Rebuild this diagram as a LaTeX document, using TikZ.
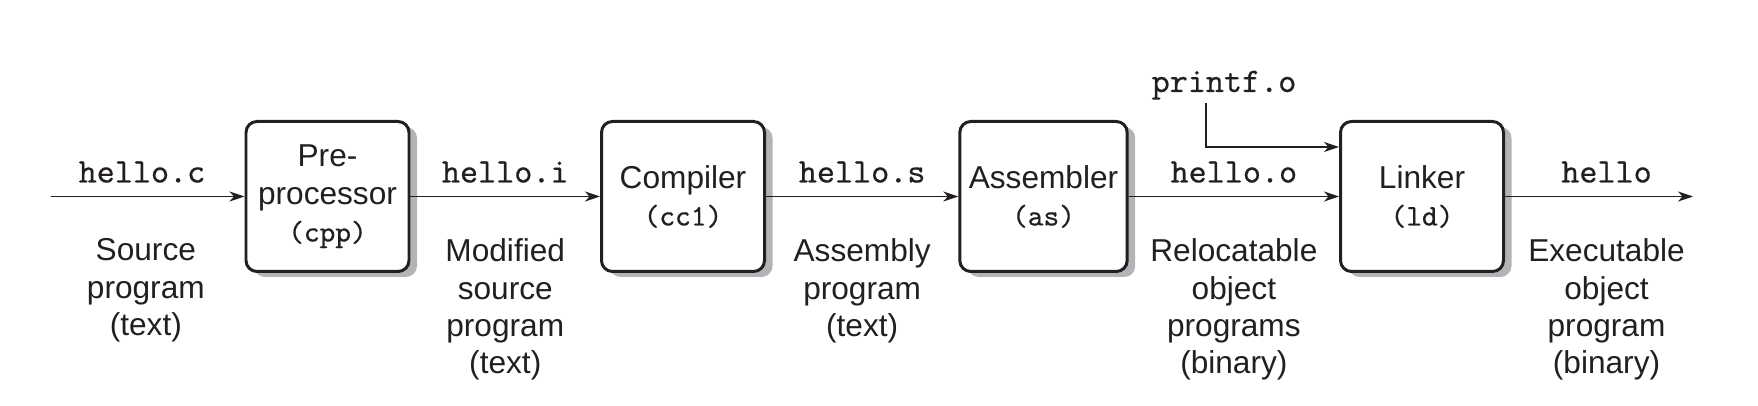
\documentclass[tikz,border=0pt]{standalone}
\usepackage{fontspec}
\setmainfont{Liberation Sans}
\setmonofont{lmmono10-regular.otf}[FakeBold=0.5]
\usetikzlibrary{arrows.meta,shadows}
\definecolor{ink}{RGB}{35,31,32}
\definecolor{shadowgray}{RGB}{178,180,183}
\newcommand{\tool}[1]{{\ttfamily\fontsize{17}{21.3}\selectfont #1}}
\begin{document}
\begin{tikzpicture}[
	stage/.style={draw=ink,line width=1.7pt,rounded corners=0.22cm,fill=white,text=ink,
		minimum width=3.26cm,minimum height=3cm,inner sep=0.18cm,align=center,
		font=\fontsize{18}{21.3}\selectfont,
		drop shadow={shadow xshift=0.16cm,shadow yshift=-0.11cm,fill=shadowgray,opacity=1}},
	flow/.style={draw=ink,line width=0.85pt,-{Stealth[length=0.3cm,width=0.2cm,inset=0.09cm]}},
	fname/.style={font=\ttfamily\fontsize{19.6}{22}\selectfont,text=ink,anchor=base,inner sep=0pt},
	note/.style={font=\fontsize{18}{21.3}\selectfont,text=ink,align=center,anchor=north,inner sep=0pt}]
	\useasboundingbox (0,0) rectangle (35.16,8.12);
	\node[stage] (cpp) at (6.55,4.19) {Pre-\\processor\\\tool{(cpp)}};
	\node[stage] (cc1) at (13.66,4.19) {Compiler\\\tool{(cc1)}};
	\node[stage] (as) at (20.87,4.19) {Assembler\\\tool{(as)}};
	\node[stage] (ld) at (28.44,4.19) {Linker\\\tool{(ld)}};
	\coordinate (src) at (1.02,4.19); % program in
	\coordinate (exe) at (33.86,4.19); % program out
	\draw[flow] (src) -- node[fname,yshift=0.28cm,pos=0.47] (hc) {hello.c}
		node[note,yshift=-0.83cm,pos=0.49] (dc) {Source\\program\\(text)} (cpp);
	\draw[flow] (cpp) -- node[fname,yshift=0.28cm] (hi) {hello.i}
		node[note,yshift=-0.83cm] (di) {Modified\\source\\program\\(text)} (cc1);
	\draw[flow] (cc1) -- node[fname,yshift=0.28cm] (hs) {hello.s}
		node[note,yshift=-0.83cm] (ds) {Assembly\\program\\(text)} (as);
	\draw[flow] (as) -- node[fname,yshift=0.28cm] (ho) {hello.o}
		node[note,yshift=-0.83cm] (do) {Relocatable\\object\\programs\\(binary)} (ld);
	\draw[flow] (ld) -- node[fname,yshift=0.28cm,pos=0.54] (hx) {hello}
		node[note,yshift=-0.83cm,pos=0.54] (dx) {Executable\\object\\program\\(binary)} (exe);
	\node[fname] (pf) at (24.48,6.28) {printf.o}; % library object
	\draw[flow] ([xshift=-0.36cm,yshift=-0.07cm]pf.south) |- ([yshift=0.99cm]ld.west);
\end{tikzpicture}
\end{document}
